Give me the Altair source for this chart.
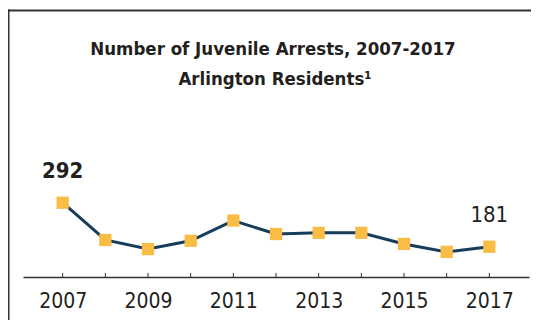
import altair as alt
import pandas as pd

years = [2007, 2008, 2009, 2010, 2011, 2012, 2013, 2014, 2015, 2016, 2017]
arrests = [292, 198, 175, 196, 247, 213, 216, 216, 188, 168, 181]
title_line1 = "Number of Juvenile Arrests, 2007-2017"
title_line2 = "Arlington Residents\u00b9"
tick_years = years

df = pd.DataFrame({"year": years, "arrests": arrests})
one = pd.DataFrame({"a": [0]})

FONT = "Liberation Sans Narrow, DejaVu Sans Condensed, sans-serif"
W, H = 506, 169

x = alt.X("year:Q", scale=alt.Scale(domain=[2006.07, 2017.93], nice=False, zero=False),
          axis=alt.Axis(values=tick_years, format="d", title=None, ticks=False,
                        labelExpr="datum.value % 2 == 1 ? datum.label : ''",
                        labelOverlap=False, labelFlush=False, grid=False,
                        domainColor="#333333", domainWidth=1.5,
                        labelFont=FONT, labelFontSize=21, labelColor="#231f20",
                        labelPadding=13))
y = alt.Y("arrests:Q", scale=alt.Scale(domain=[104.6, 530.9], nice=False, zero=False), axis=None)

base = alt.Chart(df)

line = base.mark_line(color="#173d5b", strokeWidth=3).encode(x=x, y=y)
pts = base.mark_square(size=150, color="#f9bc45", opacity=1).encode(x=x, y=y)
ticks = base.mark_rule(color="#333333", strokeWidth=1).encode(
    x=x, y=alt.value(H - 4), y2=alt.value(H))

lab_first = base.transform_filter(alt.datum.year == years[0]).mark_text(
    font=FONT, fontSize=22, fontWeight="bold", dy=-32, color="#231f20"
).encode(x=x, y=y, text=alt.Text("arrests:Q"))
lab_last = base.transform_filter(alt.datum.year == years[-1]).mark_text(
    font=FONT, fontSize=22, fontWeight="normal", dy=-32, color="#231f20"
).encode(x=x, y=y, text=alt.Text("arrests:Q"))

t1 = alt.Chart(one).mark_text(font=FONT, fontSize=18.5, fontWeight="bold", color="#231f20",
                              align="center", baseline="middle").encode(
    x=alt.value(250), y=alt.value(-59), text=alt.value(title_line1))
t2 = alt.Chart(one).mark_text(font=FONT, fontSize=18.5, fontWeight="bold", color="#231f20",
                              align="center", baseline="middle").encode(
    x=alt.value(252), y=alt.value(-29), text=alt.value(title_line2))

border_top = alt.Chart(one).mark_rule(color="#333333", strokeWidth=2).encode(
    x=alt.value(-15), x2=alt.value(520), y=alt.value(-97.5))
border_left = alt.Chart(one).mark_rule(color="#333333", strokeWidth=2).encode(
    x=alt.value(-14.5), y=alt.value(-98.5), y2=alt.value(215))

chart = alt.layer(border_top, border_left, t1, t2, ticks, line, pts, lab_first, lab_last).properties(
    width=W, height=H,
    autosize=alt.AutoSizeParams(type="none"),
    padding={"left": 15, "top": 100, "right": 2, "bottom": 43},
).configure_view(stroke=None)

chart.save("out.html", embed_options={"renderer": "svg", "actions": False})
